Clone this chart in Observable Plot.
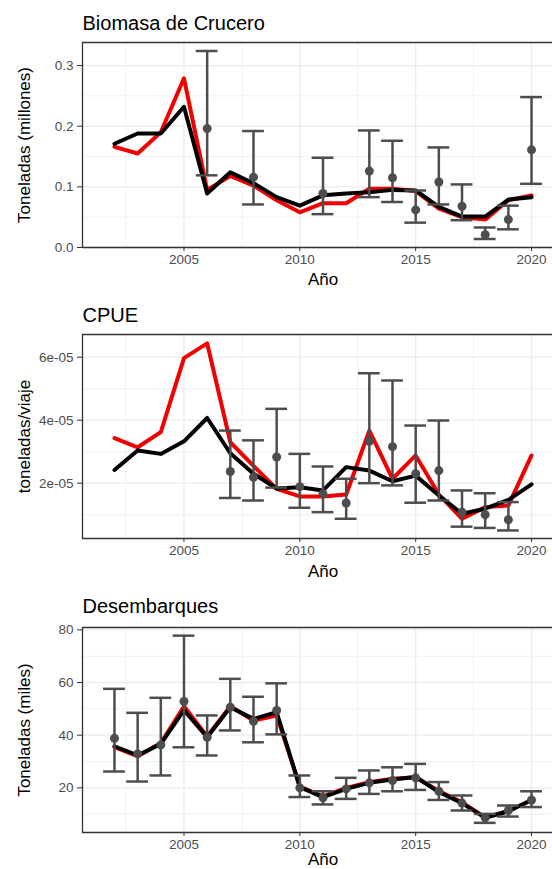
<!DOCTYPE html>
<html>
<head>
<meta charset="utf-8">
<script src="https://cdn.jsdelivr.net/npm/d3@7"></script>
<script src="https://cdn.jsdelivr.net/npm/@observablehq/plot@0.6"></script>
<style>
  body { margin: 0; background: #fff; }
  svg { display: block; }
</style>
</head>
<body>
<div id="chart"></div>
<script>
// ---- Data ----
const years = [2002,2003,2004,2005,2006,2007,2008,2009,2010,2011,2012,2013,2014,2015,2016,2017,2018,2019,2020];
const xTicks = [2005, 2010, 2015, 2020];
const xMinor = [2002.5, 2007.5, 2012.5, 2017.5];

// Biomasa de Crucero (millones de toneladas)
const bioRed   = [0.166,0.155,0.190,0.279,0.095,0.118,0.102,0.078,0.058,0.073,0.073,0.097,0.097,0.093,0.064,0.050,0.046,0.078,0.086];
const bioBlack = [0.171,0.188,0.188,0.232,0.089,0.124,0.106,0.083,0.069,0.086,0.089,0.091,0.095,0.094,0.067,0.051,0.051,0.079,0.083];
const bioObsYears = [2006,2008,2011,2013,2014,2015,2016,2017,2018,2019,2020];
const bioObs = [0.196,0.116,0.089,0.126,0.115,0.062,0.108,0.068,0.021,0.046,0.161];
const bioLo  = [0.119,0.071,0.055,0.083,0.075,0.041,0.071,0.045,0.014,0.030,0.105];
const bioHi  = [0.324,0.192,0.148,0.193,0.176,0.094,0.165,0.104,0.033,0.069,0.248];
const bioTicks = [0, 0.1, 0.2, 0.3];
const bioTickLabels = ["0.0", "0.1", "0.2", "0.3"];
const bioMinor = [0.05, 0.15, 0.25];

// CPUE (toneladas/viaje)
const cpueRed   = [3.43e-5,3.14e-5,3.62e-5,5.97e-5,6.44e-5,3.30e-5,2.55e-5,1.82e-5,1.58e-5,1.58e-5,1.64e-5,3.67e-5,2.14e-5,2.88e-5,1.64e-5,0.87e-5,1.24e-5,1.29e-5,2.88e-5];
const cpueBlack = [2.42e-5,3.04e-5,2.93e-5,3.33e-5,4.07e-5,2.95e-5,2.30e-5,1.83e-5,1.87e-5,1.77e-5,2.51e-5,2.40e-5,2.06e-5,2.24e-5,1.61e-5,1.03e-5,1.19e-5,1.47e-5,1.96e-5];
const cpueObsYears = [2007,2008,2009,2010,2011,2012,2013,2014,2015,2016,2017,2018,2019];
const cpueObs = [2.37e-5,2.19e-5,2.83e-5,1.89e-5,1.66e-5,1.37e-5,3.33e-5,3.16e-5,2.30e-5,2.40e-5,1.08e-5,1.00e-5,0.84e-5];
const cpueLo  = [1.53e-5,1.45e-5,1.86e-5,1.22e-5,1.08e-5,0.87e-5,2.00e-5,1.93e-5,1.38e-5,1.45e-5,0.62e-5,0.58e-5,0.50e-5];
const cpueHi  = [3.67e-5,3.36e-5,4.36e-5,2.93e-5,2.53e-5,2.14e-5,5.49e-5,5.26e-5,3.83e-5,3.99e-5,1.77e-5,1.68e-5,1.40e-5];
const cpueTicks = [2e-5, 4e-5, 6e-5];
const cpueTickLabels = ["2e-05", "4e-05", "6e-05"];
const cpueMinor = [1e-5, 3e-5, 5e-5];

// Desembarques (miles de toneladas)
const desRed   = [35.5,32.0,37.0,51.0,39.5,51.0,45.6,47.5,20.5,16.8,20.0,22.1,23.5,24.0,18.8,14.5,8.8,11.2,15.3];
const desBlack = [35.8,32.3,36.7,49.5,39.2,50.6,46.2,48.7,20.3,16.5,19.6,21.9,23.2,24.1,18.4,14.2,8.6,11.1,15.4];
const desObsYears = years;
const desObs = [38.8,32.9,36.3,52.8,39.2,50.6,45.3,49.4,20.0,16.2,19.6,21.9,22.8,23.8,18.7,14.2,8.6,11.4,15.4];
const desLo  = [26.2,22.4,24.7,35.4,32.3,41.8,37.3,40.3,16.5,13.7,15.8,17.7,18.7,19.2,15.4,11.4,6.7,9.1,12.7];
const desHi  = [57.6,48.5,54.2,77.8,47.5,61.4,54.6,59.7,24.7,18.7,23.8,26.6,27.8,29.1,22.2,17.1,10.1,13.3,18.7];
const desTicks = [20, 40, 60, 80];
const desTickLabels = ["20", "40", "60", "80"];
const desMinor = [10, 30, 50, 70];

// ---- Layout ----
const FONT = "'Liberation Sans', Arial, Helvetica, sans-serif";
const xDomain = [2000.62, 2020.905];
const xFullCenter = 2011.0; // centre of the full (cropped) panel
const CAP = 0.47;
const GRID = "#ebebeb";
const ERR = "#4d4d4d";

function panel(o) {
  const lines = years.map((y, i) => ({year: y, red: o.red[i], black: o.black[i]}));
  const obs = o.obsYears.map((y, i) => ({year: y, v: o.obs[i], lo: o.lo[i], hi: o.hi[i]}));
  const labelOf = new Map(o.yticks.map((t, i) => [t, o.ytickLabels[i]]));
  return Plot.plot({
    width: 552,
    height: o.height,
    marginLeft: 82,
    marginRight: 0,
    marginTop: o.mt,
    marginBottom: o.mb,
    style: {fontFamily: FONT, background: "#fff", overflow: "hidden"},
    x: {domain: xDomain},
    y: {domain: o.ydomain},
    marks: [
      Plot.ruleX(xMinor, {stroke: GRID, strokeWidth: 0.7}),
      Plot.ruleY(o.yminor, {stroke: GRID, strokeWidth: 0.7}),
      Plot.ruleX(xTicks, {stroke: GRID, strokeWidth: 1.3}),
      Plot.ruleY(o.yticks, {stroke: GRID, strokeWidth: 1.3}),
      Plot.line(lines, {x: "year", y: "red", stroke: "#f00000", strokeWidth: 4}),
      Plot.line(lines, {x: "year", y: "black", stroke: "#000", strokeWidth: 4}),
      Plot.ruleX(obs, {x: "year", y1: "lo", y2: "hi", stroke: ERR, strokeWidth: 2.5}),
      Plot.ruleY(obs, {y: "hi", x1: d => d.year - CAP, x2: d => d.year + CAP, stroke: ERR, strokeWidth: 2.5}),
      Plot.ruleY(obs, {y: "lo", x1: d => d.year - CAP, x2: d => d.year + CAP, stroke: ERR, strokeWidth: 2.5}),
      Plot.dot(obs, {x: "year", y: "v", r: 4.5, fill: ERR, stroke: "none"}),
      // panel border (right side cropped)
      Plot.ruleX([xDomain[0]], {stroke: "#333", strokeWidth: 1.3}),
      Plot.ruleY(o.ydomain, {stroke: "#333", strokeWidth: 1.3}),
      Plot.axisX(xTicks, {tickSize: 4, tickPadding: 3, fontSize: 13.5, fill: "#4d4d4d", stroke: "#333", label: null, tickFormat: d => String(d)}),
      Plot.axisY(o.yticks, {tickSize: 5, tickPadding: 4, fontSize: 13.5, fill: "#4d4d4d", stroke: "#333", label: null, tickFormat: d => labelOf.get(d)}),
      Plot.text([o.title], {frameAnchor: "top-left", textAnchor: "start", lineAnchor: "middle", dy: o.titleDy, fontSize: 20, fill: "#000"}),
      Plot.text([o.ylabel], {frameAnchor: "left", textAnchor: "middle", lineAnchor: "middle", rotate: -90, dx: -58, fontSize: 17, fill: "#000"}),
      Plot.text(["Año"], {x: xFullCenter, frameAnchor: "bottom", textAnchor: "middle", lineAnchor: "middle", dy: o.xlabDy, fontSize: 17, fill: "#000"})
    ]
  });
}

const root = document.getElementById("chart");
root.append(panel({
  title: "Biomasa de Crucero", ylabel: "Toneladas (millones)",
  height: 290, mt: 42, mb: 43, ydomain: [0, 0.338],
  yticks: bioTicks, ytickLabels: bioTickLabels, yminor: bioMinor,
  red: bioRed, black: bioBlack, obsYears: bioObsYears, obs: bioObs, lo: bioLo, hi: bioHi,
  titleDy: -19, xlabDy: 31.6
}));
root.append(panel({
  title: "CPUE", ylabel: "toneladas/viaje",
  height: 290, mt: 44, mb: 42, ydomain: [0.244e-5, 6.72e-5],
  yticks: cpueTicks, ytickLabels: cpueTickLabels, yminor: cpueMinor,
  red: cpueRed, black: cpueBlack, obsYears: cpueObsYears, obs: cpueObs, lo: cpueLo, hi: cpueHi,
  titleDy: -18.7, xlabDy: 32.6
}));
root.append(panel({
  title: "Desembarques", ylabel: "Toneladas (miles)",
  height: 289, mt: 47, mb: 37, ydomain: [3.04, 80.9],
  yticks: desTicks, ytickLabels: desTickLabels, yminor: desMinor,
  red: desRed, black: desBlack, obsYears: desObsYears, obs: desObs, lo: desLo, hi: desHi,
  titleDy: -20.7, xlabDy: 27
}));
</script>
</body>
</html>
